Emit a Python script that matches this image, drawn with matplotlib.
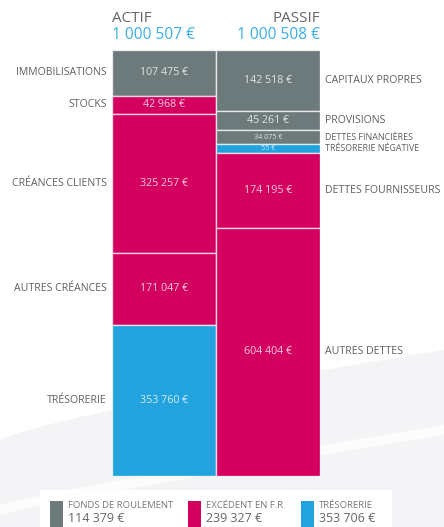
import numpy as np
import matplotlib.pyplot as plt
from matplotlib.patches import Rectangle, Polygon

plt.rcParams['font.family'] = ['Open Sans', 'DejaVu Sans']

# Données du bilan
actif_labels = ['IMMOBILISATIONS', 'STOCKS', 'CRÉANCES CLIENTS', 'AUTRES CRÉANCES', 'TRÉSORERIE']
actif_values = [107475, 42968, 325257, 171047, 353760]
actif_kinds = ['fr', 'exc', 'exc', 'exc', 'treso']

passif_labels = ['CAPITAUX PROPRES', 'PROVISIONS', 'DETTES FINANCIÈRES',
                 'TRÉSORERIE NÉGATIVE', 'DETTES FOURNISSEURS', 'AUTRES DETTES']
passif_values = [142518, 45261, 34075, 55, 174195, 604404]
passif_kinds = ['fr', 'fr', 'fr', 'treso', 'exc', 'exc']

legend_labels = ['FONDS DE ROULEMENT', 'EXCÉDENT EN F.R.', 'TRÉSORERIE']
legend_values = [114379, 239327, 353706]
legend_kinds = ['fr', 'exc', 'treso']

colors = {'fr': '#6c7a7c', 'exc': '#d4005f', 'treso': '#22a3dd'}
txt_gray = '#5e5e5e'
blue_title = '#3aaee6'


def euro(v):
    return f'{v:,}'.replace(',', ' ') + ' €'


def display_heights(values, total, min_share=0.021):
    # hauteur minimale pour les petits postes, prise sur le plus gros poste
    v = np.array(values, dtype=float)
    h = np.maximum(v, min_share * total)
    h[np.argmax(v)] -= h.sum() - v.sum()
    return h


fig = plt.figure(figsize=(4.44, 5.27), dpi=100)
W, H = 444, 527

# fond décoratif (vagues grises très claires)
bg = fig.add_axes([0, 0, 1, 1])
bg.set_xlim(0, W)
bg.set_ylim(H, 0)
bg.axis('off')
xs = np.linspace(0, W, 50)
upper = 440 - 90 * (xs / W) ** 0.8
bg.add_patch(Polygon(np.column_stack([np.r_[xs, W, 0], np.r_[upper, H, H]]),
                     closed=True, color='#f4f4f6', lw=0))
band = 505 - 80 * (xs / W) ** 0.9
bg.add_patch(Polygon(np.column_stack([np.r_[xs, xs[::-1]], np.r_[band, band[::-1] + 10]]),
                     closed=True, color='white', lw=0, alpha=0.8))

# graphique principal
left, right, top, bottom = 112, 320, 50, 476
ax = fig.add_axes([left / W, 1 - bottom / H, (right - left) / W, (bottom - top) / H])
total = max(sum(actif_values), sum(passif_values))
ax.set_xlim(-0.5, 1.5)
ax.set_ylim(total, 0)
ax.axis('off')

columns = [(0, actif_labels, actif_values, actif_kinds),
           (1, passif_labels, passif_values, passif_kinds)]
for x, labels, values, kinds in columns:
    hts = display_heights(values, total)
    starts = np.r_[0, np.cumsum(hts)[:-1]]
    ax.bar([x] * len(hts), hts, bottom=starts, width=1.0, align='center',
           color=[colors[k] for k in kinds], edgecolor=(1, 1, 1, 0.7), linewidth=1)
    for lab, v, b, h in zip(labels, values, starts, hts):
        yc = b + h / 2
        small = h < 0.04 * total
        ax.text(x, yc, euro(v), ha='center', va='center', color='white', alpha=0.8,
                fontsize=5.2 if small else 7.7)
        if x == 0:
            ax.text(-0.55, yc, lab, ha='right', va='center', color=txt_gray,
                    fontsize=7.6)
        else:
            ax.text(1.55, yc, lab, ha='left', va='center', color=txt_gray,
                    fontsize=6.4 if small else 7.6)

# titres des colonnes
fig.text(left / W, 1 - 19 / H, 'ACTIF', ha='left', va='center', color='#666666', fontsize=11)
fig.text(left / W, 1 - 35 / H, euro(sum(actif_values)), ha='left', va='center',
         color=blue_title, fontsize=11.2)
fig.text(right / W, 1 - 19 / H, 'PASSIF', ha='right', va='center', color='#666666', fontsize=11)
fig.text(right / W, 1 - 35 / H, euro(sum(passif_values)), ha='right', va='center',
         color=blue_title, fontsize=11.2)

# légende
bg.add_patch(Rectangle((40, 490), 352, 40, color='white', lw=0))
leg_x = [50, 188, 301]
for lx, lab, v, k in zip(leg_x, legend_labels, legend_values, legend_kinds):
    bg.add_patch(Rectangle((lx, 501), 13, 26, color=colors[k], lw=0))
    bg.text(lx + 18, 506, lab, ha='left', va='center', color='#777777', fontsize=6.8)
    bg.text(lx + 18, 519, euro(v), ha='left', va='center', color='#666666', fontsize=9)

plt.savefig('out.png', dpi=100)
